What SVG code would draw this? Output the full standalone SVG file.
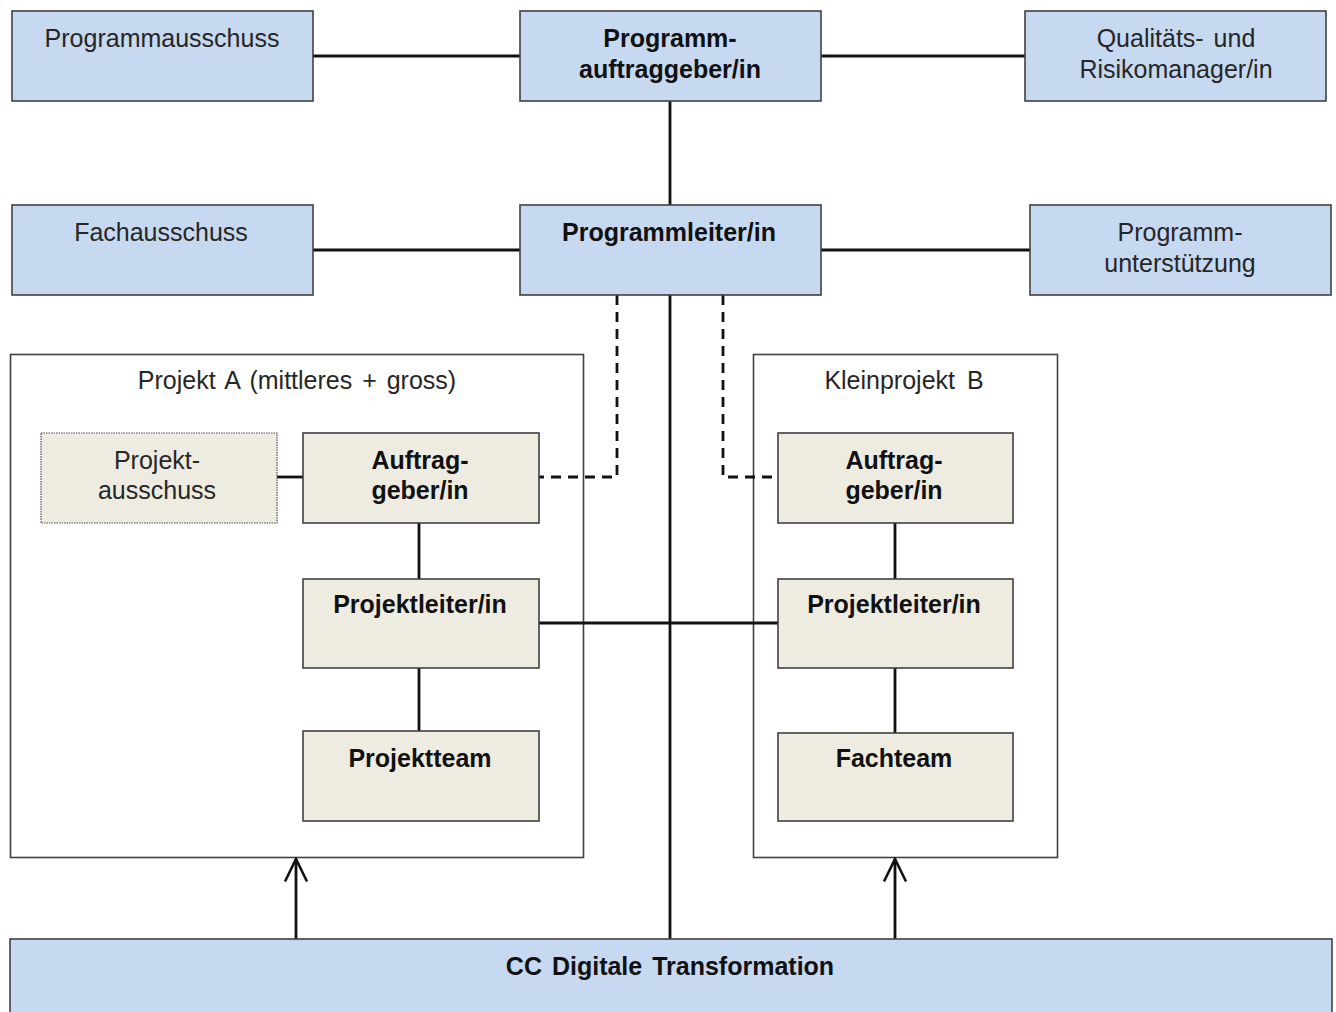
<svg xmlns="http://www.w3.org/2000/svg" width="1336" height="1012" viewBox="0 0 1336 1012">
<defs>
<style>
.blue{fill:#C6D9F0;stroke:#404040;stroke-width:1.6}
.beige{fill:#EEECE1;stroke:#404040;stroke-width:1.6}
.dotted{fill:#EEECE1;stroke:#505050;stroke-width:1.2;stroke-dasharray:1.5 1}
.cont{fill:#FFFFFF;stroke:#404040;stroke-width:1.6}
.t{font-family:"Liberation Sans",Arial,sans-serif;font-size:25px;fill:#262626;text-anchor:middle}
.b{font-weight:bold;fill:#111111}
.ln{stroke:#111111;stroke-width:2.8;fill:none}
.dash{stroke:#111111;stroke-width:2.8;fill:none;stroke-dasharray:10 7}
</style>
<marker id="open" viewBox="0 0 26 26" refX="24" refY="13" markerWidth="26" markerHeight="26" markerUnits="userSpaceOnUse" orient="auto">
<path d="M1.5,2 L24,13 L1.5,24" fill="none" stroke="#111111" stroke-width="2.6"/>
</marker>
</defs>
<rect width="1336" height="1012" fill="#FFFFFF"/>

<g id="container-projekt-a">
<rect class="cont" x="10.5" y="354.5" width="573" height="503"/>
<text class="t" x="297" y="389" word-spacing="3">Projekt A (mittleres + gross)</text>
</g>
<g id="container-kleinprojekt-b">
<rect class="cont" x="753.5" y="354.5" width="304" height="503"/>
<text class="t" x="904" y="389" word-spacing="5">Kleinprojekt B</text>
</g>

<g id="connectors">
<line class="ln" x1="313" y1="56" x2="520" y2="56"/>
<line class="ln" x1="821" y1="56" x2="1025" y2="56"/>
<line class="ln" x1="670" y1="101" x2="670" y2="205"/>
<line class="ln" x1="313" y1="250" x2="520" y2="250"/>
<line class="ln" x1="821" y1="250" x2="1030" y2="250"/>
<line class="ln" x1="670" y1="295" x2="670" y2="939"/>
<path class="dash" d="M617,295 L617,477 L539,477"/>
<path class="dash" d="M723,295 L723,477 L778,477"/>
<line class="ln" x1="277" y1="477" x2="303" y2="477"/>
<line class="ln" x1="419" y1="523" x2="419" y2="579"/>
<line class="ln" x1="419" y1="668" x2="419" y2="731"/>
<line class="ln" x1="895" y1="523" x2="895" y2="579"/>
<line class="ln" x1="895" y1="668" x2="895" y2="733"/>
<line class="ln" x1="539" y1="623" x2="778" y2="623"/>
<line class="ln" x1="296" y1="939" x2="296" y2="859" marker-end="url(#open)"/>
<line class="ln" x1="895" y1="939" x2="895" y2="859" marker-end="url(#open)"/>
</g>

<g id="programmausschuss">
<rect class="blue" x="12" y="11" width="301" height="90"/>
<text class="t" x="162" y="47">Programmausschuss</text>
</g>
<g id="programmauftraggeber">
<rect class="blue" x="520" y="11" width="301" height="90"/>
<text class="t b" x="670" y="47">Programm-</text>
<text class="t b" x="670" y="78">auftraggeber/in</text>
</g>
<g id="qualitaetsmanager">
<rect class="blue" x="1025" y="11" width="301" height="90"/>
<text class="t" x="1176" y="47" word-spacing="3">Qualitäts- und</text>
<text class="t" x="1176" y="78">Risikomanager/in</text>
</g>
<g id="fachausschuss">
<rect class="blue" x="12" y="205" width="301" height="90"/>
<text class="t" x="161" y="241">Fachausschuss</text>
</g>
<g id="programmleiter">
<rect class="blue" x="520" y="205" width="301" height="90"/>
<text class="t b" x="669" y="241">Programmleiter/in</text>
</g>
<g id="programmunterstuetzung">
<rect class="blue" x="1030" y="205" width="301" height="90"/>
<text class="t" x="1180" y="241">Programm-</text>
<text class="t" x="1180" y="272">unterstützung</text>
</g>

<g id="projektausschuss">
<rect class="dotted" x="41" y="433" width="236" height="90"/>
<text class="t" x="157" y="469">Projekt-</text>
<text class="t" x="157" y="499">ausschuss</text>
</g>
<g id="auftraggeber-a">
<rect class="beige" x="303" y="433" width="236" height="90"/>
<text class="t b" x="420" y="469">Auftrag-</text>
<text class="t b" x="420" y="499">geber/in</text>
</g>
<g id="projektleiter-a">
<rect class="beige" x="303" y="579" width="236" height="89"/>
<text class="t b" x="420" y="613">Projektleiter/in</text>
</g>
<g id="projektteam">
<rect class="beige" x="303" y="731" width="236" height="90"/>
<text class="t b" x="420" y="767">Projektteam</text>
</g>

<g id="auftraggeber-b">
<rect class="beige" x="778" y="433" width="235" height="90"/>
<text class="t b" x="894" y="469">Auftrag-</text>
<text class="t b" x="894" y="499">geber/in</text>
</g>
<g id="projektleiter-b">
<rect class="beige" x="778" y="579" width="235" height="89"/>
<text class="t b" x="894" y="613">Projektleiter/in</text>
</g>
<g id="fachteam">
<rect class="beige" x="778" y="733" width="235" height="88"/>
<text class="t b" x="894" y="767">Fachteam</text>
</g>

<g id="cc-digitale-transformation">
<rect class="blue" x="10" y="939" width="1322" height="90"/>
<text class="t b" x="670" y="975" word-spacing="3">CC Digitale Transformation</text>
</g>
</svg>
